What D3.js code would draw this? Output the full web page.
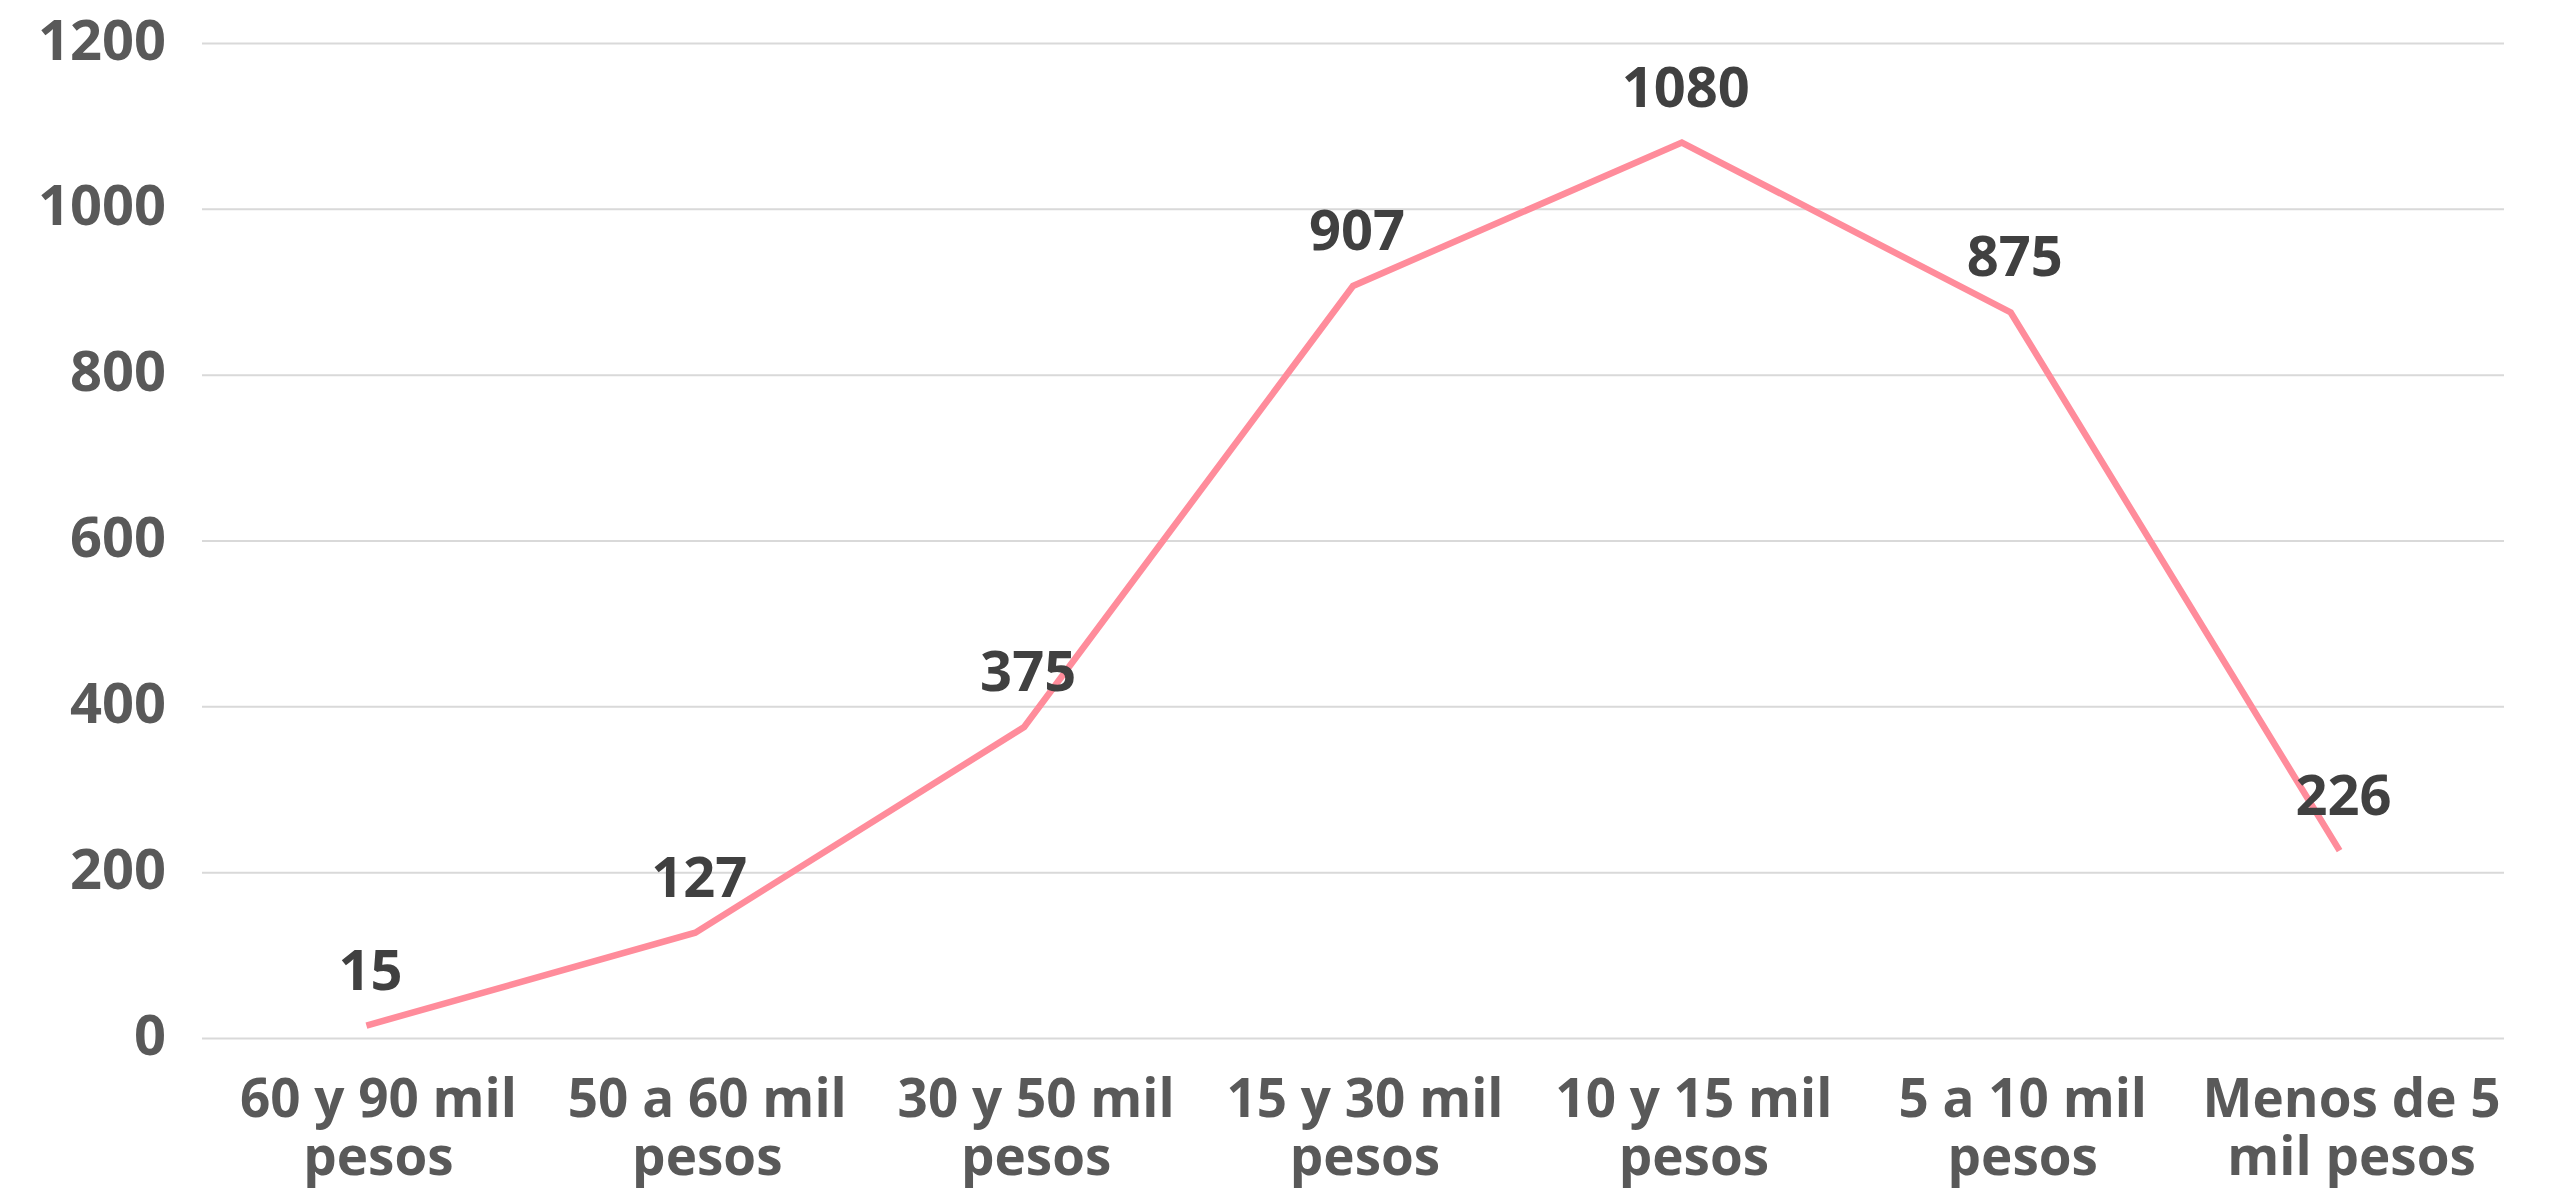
<!DOCTYPE html>
<html>
<head>
<meta charset="utf-8">
<script src="https://cdn.jsdelivr.net/npm/d3@7"></script>
<style>
  html, body { margin: 0; padding: 0; background: #ffffff; }
  svg { display: block; }
  text { font-family: "Open Sans", "Lato", sans-serif; font-weight: 700; }
</style>
</head>
<body>
<svg id="chart" width="2567" height="1188"></svg>
<script>
// ---- data ----
const categories = [
  ["60 y 90 mil", "pesos"],
  ["50 a 60 mil", "pesos"],
  ["30 y 50 mil", "pesos"],
  ["15 y 30 mil", "pesos"],
  ["10 y 15 mil", "pesos"],
  ["5 a 10 mil", "pesos"],
  ["Menos de 5", "mil pesos"]
];
const values = [15, 127, 375, 907, 1080, 875, 226];
const yTicks = [0, 200, 400, 600, 800, 1000, 1200];

// ---- layout ----
const plot = { left: 202, right: 2504, top: 43, bottom: 1038 };
const svg = d3.select("#chart");

const keys = categories.map(c => c.join(" "));
const x = d3.scaleBand().domain(keys).range([plot.left, plot.right]).padding(0);
const y = d3.scaleLinear().domain([0, 1200]).range([plot.bottom, plot.top]);
const cx = k => x(k) + x.bandwidth() / 2;

// gridlines + y labels
const yAxis = d3.axisLeft(y).tickValues(yTicks).tickSize(-(plot.right - plot.left)).tickFormat(d3.format("d"));
const gy = svg.append("g").attr("transform", `translate(${plot.left},0)`).call(yAxis);
gy.select(".domain").remove();
gy.selectAll(".tick line").attr("stroke", "#d9d9d9").attr("stroke-width", 2);
gy.selectAll(".tick text")
  .attr("x", -(plot.left - 166))
  .attr("dy", null)
  .attr("y", 16)
  .attr("fill", "#595959")
  .attr("font-size", 56)
  .attr("text-anchor", "end");

// x axis labels
const xAxis = d3.axisBottom(x).tickSize(0).tickFormat(() => "");
const gx = svg.append("g").attr("transform", `translate(0,${plot.bottom})`).call(xAxis);
gx.select(".domain").remove();
gx.selectAll(".tick").each(function(d, i) {
  const t = d3.select(this).select("text")
    .attr("y", null).attr("dy", null)
    .attr("fill", "#595959")
    .attr("font-size", 53)
    .attr("text-anchor", "middle");
  categories[i].forEach((line, j) => {
    t.append("tspan").attr("x", 12).attr("y", 79 + j * 58).text(line);
  });
});

// line
const data = keys.map((k, i) => ({ k, v: values[i] }));
const line = d3.line().x(d => cx(d.k)).y(d => y(d.v));
svg.append("path")
  .datum(data)
  .attr("fill", "none")
  .attr("stroke", "#ff8c9b")
  .attr("stroke-width", 6.5)
  .attr("stroke-linejoin", "miter")
  .attr("d", line);

// data labels
svg.append("g").selectAll("text").data(data).join("text")
  .attr("x", d => cx(d.k) + 4)
  .attr("y", d => y(d.v) - 36)
  .attr("text-anchor", "middle")
  .attr("fill", "#404040")
  .attr("font-size", 56)
  .text(d => d.v);
</script>
</body>
</html>
